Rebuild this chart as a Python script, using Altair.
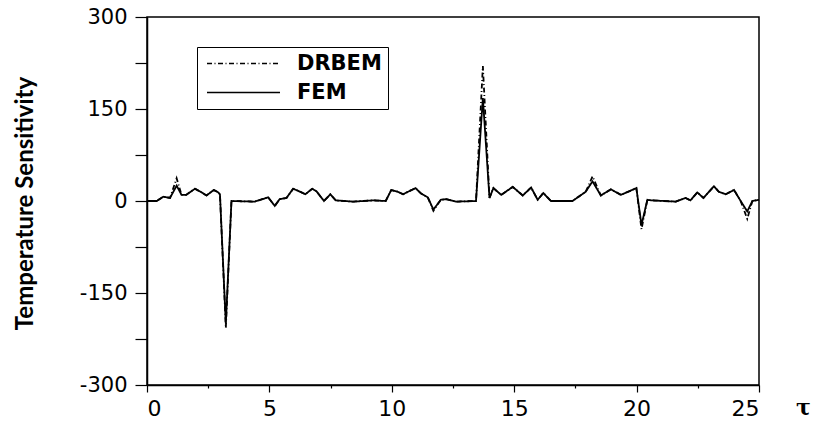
import altair as alt
import pandas as pd

tau = [0.0, 0.4, 0.67, 0.94, 1.21, 1.41, 1.6, 1.96, 2.23, 2.43, 2.73, 2.91, 2.98,
       3.22, 3.45, 4.4, 4.95, 5.22, 5.42, 5.7, 5.97, 6.15, 6.47, 6.75, 6.92, 7.23,
       7.49, 7.71, 8.42, 9.23, 9.75, 9.98, 10.25, 10.46, 10.66, 10.97, 11.2, 11.47,
       11.7, 12.0, 12.22, 12.63, 13.44, 13.72, 13.99, 14.15, 14.47, 14.94, 15.35,
       15.69, 15.96, 16.19, 16.5, 17.38, 17.92, 18.2, 18.54, 18.95, 19.36, 19.76,
       19.99, 20.2, 20.44, 20.6, 21.6, 22.0, 22.2, 22.48, 22.73, 23.16, 23.36,
       23.64, 23.98, 24.25, 24.52, 24.73, 25.0]

fem = [0, 0, 7, 5, 25, 10, 10, 20, 14, 9, 18, 14, 11,
       -200, 0, -1, 6, -8, 3, 5, 20, 17, 11, 20, 16, 0,
       11, 1, -1, 1, 0, 18, 15, 11, 15, 21, 12, 6,
       -14, 2, 3, -1, 0, 168, 5, 21, 10, 23, 9,
       22, 2, 13, 0, 0, 15, 32, 9, 19, 10, 17,
       21, -39, 2, 1, -1, 5, 1, 14, 5, 24, 15,
       11, 18, 0, -17, 0, 2]

drbem = [0, 0, 7, 5, 37, 10, 10, 20, 14, 9, 18, 14, 11,
         -207, 0, -1, 6, -8, 3, 5, 20, 17, 11, 20, 16, 0,
         11, 1, -1, 1, 0, 18, 15, 11, 15, 21, 12, 6,
         -16, 2, 3, -1, 0, 220, 5, 21, 10, 23, 9,
         22, 2, 13, 0, 0, 15, 40, 9, 19, 10, 17,
         21, -46, 2, 1, -1, 5, 1, 14, 5, 24, 15,
         11, 18, 0, -29, 0, 2]

series = ["DRBEM", "FEM"]

df = pd.concat([
    pd.DataFrame({"tau": tau, "value": fem, "method": "FEM", "order": 1}),
    pd.DataFrame({"tau": tau, "value": drbem, "method": "DRBEM", "order": 0}),
])

x_ticks = [i * 2.5 for i in range(11)]
y_ticks = [-300 + 75 * i for i in range(9)]

chart = alt.Chart(df).mark_line(color="black", strokeWidth=1.8).encode(
    x=alt.X("tau:Q",
            scale=alt.Scale(domain=[0, 25], nice=False, zero=False),
            axis=alt.Axis(values=x_ticks,
                          labelExpr="datum.value % 5 == 0 ? datum.label : ''",
                          tickSize={"condition": {"test": "datum.value % 5 == 0", "value": 7}, "value": 3},
                          labelFontSize=22, labelPadding=6,
                          title="τ", titleX=656, titleY=22, titleAlign="center",
                          titleBaseline="middle", titleFont="DejaVu Serif",
                          titleFontSize=22, titleFontWeight="bold")),
    y=alt.Y("value:Q",
            scale=alt.Scale(domain=[-300, 300], nice=False),
            axis=alt.Axis(values=y_ticks,
                          labelExpr="datum.value % 150 == 0 ? '' + datum.value : ''",
                          tickSize=12, labelFontSize=21, labelPadding=8,
                          title="Temperature Sensitivity", titleX=-122, titleY=186,
                          titleAngle=-90, titleAlign="center", titleBaseline="middle",
                          titleFont="Lato", titleFontSize=24, titleFontWeight="bold")),
    strokeDash=alt.StrokeDash("method:N",
                              scale=alt.Scale(domain=series, range=[[5, 2.5, 1, 2.5], [1, 0]]),
                              legend=alt.Legend(title=None, orient="none", legendX=50, legendY=30,
                                                strokeColor="black", padding=6,
                                                symbolType="M-6,0H6", symbolSize=148,
                                                symbolOffset=30, symbolStrokeWidth=1.6,
                                                symbolStrokeColor="black",
                                                labelFont="DejaVu Sans", labelFontSize=21,
                                                labelFontWeight="bold", labelColor="black",
                                                labelOffset=43, rowPadding=7)),
    detail="method:N",
    order="order:Q",
).properties(
    width=612, height=368,
    padding={"left": 147, "top": 17, "right": 56, "bottom": 39},
    autosize=alt.AutoSizeParams(type="none"),
).configure_view(
    stroke="black", strokeWidth=1.5
).configure_axis(
    domainColor="black", domainWidth=1.5, tickColor="black", tickWidth=1.2,
    labelFont="DejaVu Sans", labelColor="black",
    grid=False, titleColor="black"
)

chart.save("out.html", embed_options={"renderer": "svg", "actions": False})
